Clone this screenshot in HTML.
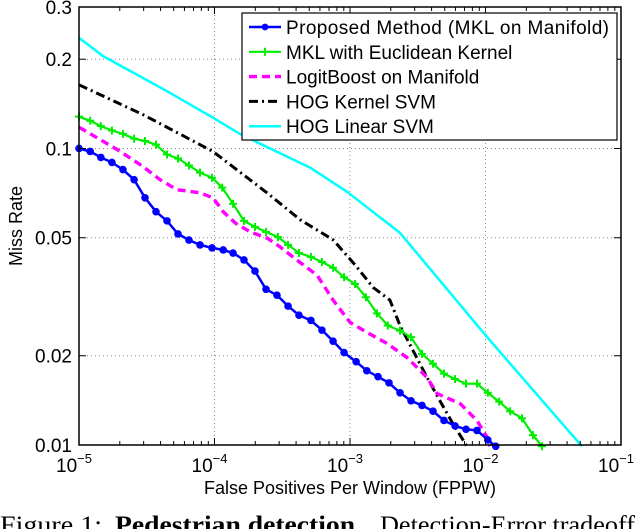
<!DOCTYPE html>
<html><head><meta charset="utf-8"><style>
html,body{margin:0;padding:0;background:#fff;}
svg{display:block;font-family:"Liberation Sans",sans-serif;}
</style></head><body>
<svg id="chart" width="640" height="529" viewBox="0 0 640 529" xmlns="http://www.w3.org/2000/svg">
<g id="grid"></g>
<g id="series"></g>
<g id="axes"></g>
<text x="350" y="494" font-size="18" text-anchor="middle">False Positives Per Window (FPPW)</text>
<text x="0" y="0" font-size="18" text-anchor="middle" transform="translate(22,226) rotate(-90)">Miss Rate</text>
<g font-family="Liberation Serif, serif" font-size="25">
<text x="0" y="533" textLength="102" lengthAdjust="spacingAndGlyphs">Figure 1:</text>
<text x="115" y="533" font-weight="bold" textLength="247" lengthAdjust="spacingAndGlyphs">Pedestrian detection.</text>
<text x="380" y="533" textLength="255" lengthAdjust="spacingAndGlyphs">Detection-Error tradeoff</text>
</g>
<g id="legend"></g>
</svg>
<script>
const xTicks=[1e-5,1e-4,1e-3,1e-2,1e-1];
const xTickExp=["−5","−4","−3","−2","−1"];
const yTicks=[0.01,0.02,0.05,0.1,0.2,0.3];
const yTickLabels=["0.01","0.02","0.05","0.1","0.2","0.3"];
const seriesNames=["Proposed Method (MKL on Manifold)","MKL with Euclidean Kernel","LogitBoost on Manifold","HOG Kernel SVM","HOG Linear SVM"];
const blueX=[1.0e-5,1.21e-5,1.45e-5,1.75e-5,2.11e-5,2.55e-5,3.07e-5,3.70e-5,4.46e-5,5.38e-5,6.48e-5,7.82e-5,9.59e-5,1.16e-4,1.37e-4,1.65e-4,1.99e-4,2.40e-4,2.89e-4,3.49e-4,4.20e-4,5.15e-4,6.21e-4,7.50e-4,9.04e-4,1.11e-3,1.33e-3,1.61e-3,1.94e-3,2.34e-3,2.82e-3,3.40e-3,4.10e-3,4.94e-3,5.96e-3,7.18e-3,8.65e-3,1.04e-2,1.19e-2];
const blueY=[0.100,0.0977,0.0933,0.0897,0.0849,0.0785,0.0682,0.0612,0.0570,0.0515,0.0491,0.0473,0.0462,0.0455,0.0444,0.0421,0.0386,0.0335,0.0320,0.0294,0.0274,0.0263,0.0244,0.0224,0.0205,0.0191,0.0178,0.0170,0.0162,0.0150,0.0141,0.0136,0.0130,0.0121,0.0116,0.0113,0.0112,0.0104,0.0099];
const greenX=[1.0e-5,1.21e-5,1.45e-5,1.75e-5,2.11e-5,2.55e-5,3.07e-5,3.70e-5,4.46e-5,5.38e-5,6.48e-5,7.82e-5,9.59e-5,1.14e-4,1.37e-4,1.65e-4,1.99e-4,2.40e-4,2.94e-4,3.49e-4,4.20e-4,5.15e-4,6.21e-4,7.50e-4,9.04e-4,1.09e-3,1.31e-3,1.58e-3,1.90e-3,2.34e-3,2.82e-3,3.40e-3,4.10e-3,4.94e-3,5.96e-3,7.18e-3,8.65e-3,1.04e-2,1.26e-2,1.52e-2,1.86e-2,2.24e-2,2.61e-2];
const greenY=[0.128,0.124,0.119,0.115,0.112,0.108,0.106,0.103,0.0954,0.0925,0.0876,0.0829,0.0797,0.0738,0.0651,0.0570,0.0544,0.0523,0.0503,0.0473,0.0444,0.0431,0.0414,0.0396,0.0368,0.0349,0.0315,0.0278,0.0253,0.0243,0.0231,0.0203,0.0188,0.0174,0.0167,0.0161,0.0161,0.0150,0.0140,0.0130,0.0123,0.0108,0.0099];
const magX=[1.0e-5,1.91e-5,2.97e-5,3.96e-5,5.29e-5,7.82e-5,9.75e-5,1.16e-4,1.42e-4,1.83e-4,2.44e-4,3.04e-4,4.06e-4,5.71e-4,7.50e-4,1.00e-3,1.33e-3,1.88e-3,2.64e-3,3.70e-3,4.39e-3,6.48e-3,8.65e-3,1.03e-2,1.08e-2];
const magY=[0.118,0.0992,0.0869,0.0785,0.0726,0.0709,0.0682,0.0612,0.0561,0.0523,0.0499,0.0466,0.0420,0.0374,0.0308,0.0259,0.0240,0.0220,0.0197,0.0169,0.0149,0.0138,0.0121,0.0106,0.0099];
const blackX=[1.0e-5,2.97e-5,9.75e-5,2.44e-4,4.28e-4,7.50e-4,1.09e-3,1.48e-3,1.97e-3,2.34e-3,2.92e-3,3.70e-3,4.61e-3,5.75e-3,7.30e-3];
const blackY=[0.164,0.130,0.0977,0.0709,0.0575,0.0492,0.0405,0.0340,0.0308,0.0253,0.0208,0.0169,0.0141,0.0118,0.0099];
const cyanX=[1.0e-5,1.50e-5,4.46e-5,9.75e-5,1.54e-4,3.43e-4,5.07e-4,9.51e-4,2.34e-3,1.03e-2,5.15e-2];
const cyanY=[0.236,0.205,0.156,0.127,0.112,0.0939,0.0862,0.0715,0.0519,0.0231,0.0099];

const NS="http://www.w3.org/2000/svg";
const L=79,R=621,T=7,B=445;
const xmin=-5,xmax=-1,ymin=Math.log10(0.01),ymax=Math.log10(0.3);
function sx(v){return L+(Math.log10(v)-xmin)/(xmax-xmin)*(R-L);}
function sy(v){return B-(Math.log10(v)-ymin)/(ymax-ymin)*(B-T);}
function mk(tag,attrs,parent){const e=document.createElementNS(NS,tag);for(const k in attrs)e.setAttribute(k,attrs[k]);parent.appendChild(e);return e;}
const grid=document.getElementById('grid'),axes=document.getElementById('axes'),ser=document.getElementById('series'),leg=document.getElementById('legend');

xTicks.forEach((t,i)=>{
  const x=sx(t);
  if(i>0&&i<xTicks.length-1){const g=mk('line',{x1:x,x2:x,y1:T,y2:B,stroke:'#888','stroke-width':1,'stroke-dasharray':'1,3'},grid);
  
  }
  const tx=mk('text',{x:x-5,y:472,'font-size':19,'text-anchor':'middle'},axes);
  
  
  tx.textContent='10';
  const sp=mk('tspan',{dy:-9,'font-size':13},tx);sp.textContent=xTickExp[i];
  if(i<xTicks.length-1){for(let m=2;m<=9;m++){const xm=sx(t*m);
    mk('line',{x1:xm,x2:xm,y1:B,y2:B-4,stroke:'#000'},axes);
    mk('line',{x1:xm,x2:xm,y1:T,y2:T+4,stroke:'#000'},axes);}}
  mk('line',{x1:x,x2:x,y1:B,y2:B-7,stroke:'#000'},axes);
  mk('line',{x1:x,x2:x,y1:T,y2:T+7,stroke:'#000'},axes);
});
yTicks.forEach((t,i)=>{
  const y=sy(t);
  if(i>0&&i<yTicks.length-1){const g=mk('line',{x1:L,x2:R,y1:y,y2:y,stroke:'#888','stroke-width':1,'stroke-dasharray':'1,3'},grid);
  
  }
  const tx=mk('text',{x:72,y:y+7,'font-size':19,'text-anchor':'end'},axes);
  
  
  tx.textContent=yTickLabels[i];
  mk('line',{x1:L,x2:L+7,y1:y,y2:y,stroke:'#000'},axes);
  mk('line',{x1:R,x2:R-7,y1:y,y2:y,stroke:'#000'},axes);
});
const frame=mk('rect',{x:L,y:T,width:R-L,height:B-T,fill:'none',stroke:'#000','stroke-width':1.5},axes);



function line(xs,ys,color,w,dash,name){
  const pts=xs.map((x,i)=>sx(x).toFixed(1)+','+sy(ys[i]).toFixed(1)).join(' ');
  const a={points:pts,fill:'none',stroke:color,'stroke-width':w,'stroke-linejoin':'round'};
  if(dash)a['stroke-dasharray']=dash;
  const p=mk('polyline',a,ser);
  
  
}
line(cyanX,cyanY,'#00ffff',2.5,null,'hog-linear-svm-line');
line(blackX,blackY,'#000',3,'9,4,2,4','hog-kernel-svm-line');
line(magX,magY,'#ff00ff',3.4,'8,5','logitboost-line');
line(greenX,greenY,'#00ee00',2.2,null,'mkl-euclidean-line');
greenX.forEach((x,i)=>{const cx=sx(x),cy=sy(greenY[i]);
  const p=mk('path',{d:`M${cx-4},${cy}H${cx+4}M${cx},${cy-4}V${cy+4}`,stroke:'#00ee00','stroke-width':2},ser);
  
  });
line(blueX,blueY,'#0000ff',2.5,null,'proposed-method-line');
blueX.forEach((x,i)=>{const c=mk('circle',{cx:sx(x),cy:sy(blueY[i]),r:3.8,fill:'#0000ff'},ser);
  
  });

mk('rect',{x:242,y:13,width:375,height:127,fill:'#fff',stroke:'#000','stroke-width':1.2},leg);
const lc=['#0000ff','#00ee00','#ff00ff','#000','#00ffff'],ld=[null,null,'8,5','9,4,2,4',null],lw=[2.5,2.2,3.4,3,2.5];
seriesNames.forEach((n,i)=>{const y=27+i*24.8;
  const g=mk('g',{},leg);
  
  
  const a={x1:249,x2:281,y1:y,y2:y,stroke:lc[i],'stroke-width':lw[i]};if(ld[i])a['stroke-dasharray']=ld[i];
  mk('line',a,g);
  if(i==0)mk('circle',{cx:265,cy:y,r:3.4,fill:'#0000ff'},g);
  if(i==1)mk('path',{d:`M261,${y}H269M265,${y-4}V${y+4}`,stroke:'#00ee00','stroke-width':2},g);
  const t=mk('text',{x:286,y:y+7,'font-size':19},g);
  if(i==0)t.setAttribute('textLength','323');
  t.textContent=n;
});
</script>
</body></html>
